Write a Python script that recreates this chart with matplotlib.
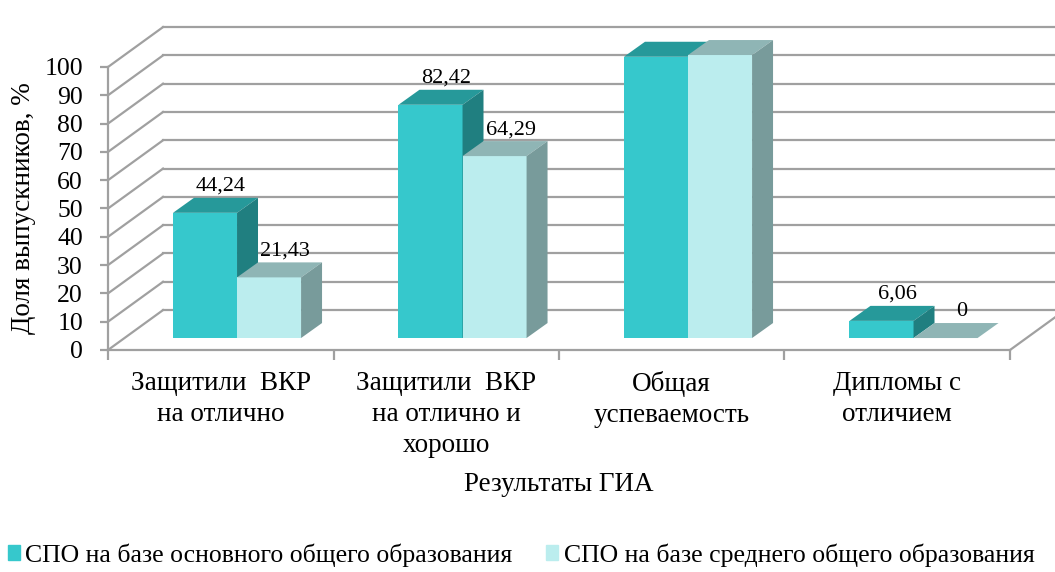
import numpy as np
import matplotlib.pyplot as plt
from matplotlib.patches import Polygon, Patch

categories = ['Защитили  ВКР\nна отлично', 'Защитили  ВКР\nна отлично и\nхорошо',
              'Общая\nуспеваемость', 'Дипломы с\nотличием']
series_names = ['СПО на базе основного общего образования',
                'СПО на базе среднего общего образования']
basic_vals = [44.24, 82.42, 99.39, 6.06]
middle_vals = [21.43, 64.29, 100, 0]
value_text = [['44,24', '82,42', '99,39', '6,06'], ['21,43', '64,29', '100', '0']]

# face colours: front, top, side
colors = [('#36C8CC', '#26999A', '#207F80'), ('#BBEDEE', '#8FB5B5', '#789B9B')]
grid_c = '#a0a0a0'

plt.rcParams['font.family'] = ['Liberation Serif', 'DejaVu Serif']

fig = plt.figure(figsize=(10.55, 5.72), dpi=100)
ax = fig.add_axes([108/1055, 1-350/572, 902/1055, 283/572])
ax.set_xlim(0, 4)
ax.set_ylim(0, 100)

# pseudo 3d depth of walls and bars
Dx, Dy = 0.244, 14.1
f = 0.3
ddx, ddy = 0.093, 5.3
w = 0.284
off = [0.215, 0.499]

# back wall and left wall grid
for v in range(0, 101, 10):
    ax.plot([Dx, 4 + Dx], [v + Dy, v + Dy], color=grid_c, lw=1.6, clip_on=False, zorder=1)
    ax.plot([0, Dx], [v, v + Dy], color=grid_c, lw=1.6, clip_on=False, zorder=1)
# floor right edge
ax.plot([4, 4 + Dx], [0, Dy], color=grid_c, lw=1.6, clip_on=False, zorder=1)

for s, vals in enumerate([basic_vals, middle_vals]):
    fc, tc, sc = colors[s]
    x = np.arange(4) + off[s] + f * Dx
    b = f * Dy
    bars = ax.bar(x, vals, width=w, bottom=b, align='edge', color=fc, linewidth=0, zorder=3 + 2 * s)
    for r in bars:
        r.set_clip_on(False)
    for i, v in enumerate(vals):
        xl = x[i]
        top = [(xl, b + v), (xl + w, b + v), (xl + w + ddx, b + v + ddy), (xl + ddx, b + v + ddy)]
        side = [(xl + w, b), (xl + w + ddx, b + ddy), (xl + w + ddx, b + v + ddy), (xl + w, b + v)]
        ax.add_patch(Polygon(top, closed=True, fc=tc, ec='none', zorder=3 + 2 * s, clip_on=False))
        if v > 0:
            ax.add_patch(Polygon(side, closed=True, fc=sc, ec='none', zorder=3 + 2 * s, clip_on=False))
        ax.annotate(value_text[s][i], (xl + w / 2 + ddx / 2, b + v + ddy),
                    xytext=(4, 5), textcoords='offset points', ha='center', va='baseline',
                    fontsize=16, zorder=10)

for sp in ['top', 'right']:
    ax.spines[sp].set_visible(False)
for sp in ['left', 'bottom']:
    ax.spines[sp].set_color(grid_c)
    ax.spines[sp].set_linewidth(1.6)
ax.spines['bottom'].set_zorder(2)
ax.set_facecolor('none')

ax.set_yticks(range(0, 101, 10))
ax.tick_params(axis='y', length=6, width=1.6, color=grid_c, pad=12, labelsize=18.5)
ax.set_xticks([0, 1, 2, 3, 4])
ax.set_xticklabels([])
ax.tick_params(axis='x', which='major', length=7, width=1.6, color=grid_c)
ax.set_xticks([0.5, 1.5, 2.5, 3.5], minor=True)
ax.set_xticklabels(categories, minor=True, fontsize=19.5, linespacing=1.32)
ax.tick_params(axis='x', which='minor', length=0, pad=15)

ax.set_ylabel('Доля выпускников, %', fontsize=19.5, labelpad=6)
ax.set_xlabel('Результаты ГИА', fontsize=19.5, labelpad=10)

handles = [Patch(color=colors[0][0]), Patch(color=colors[1][0])]
fig.legend(handles, series_names, loc='center left', bbox_to_anchor=(8/1055, 1-555/572),
           ncol=2, frameon=False, fontsize=18.5, handlelength=0.48, handleheight=0.55,
           handletextpad=0.2, columnspacing=1.3, borderpad=0, borderaxespad=0)

fig.savefig('out.png', dpi=100)
